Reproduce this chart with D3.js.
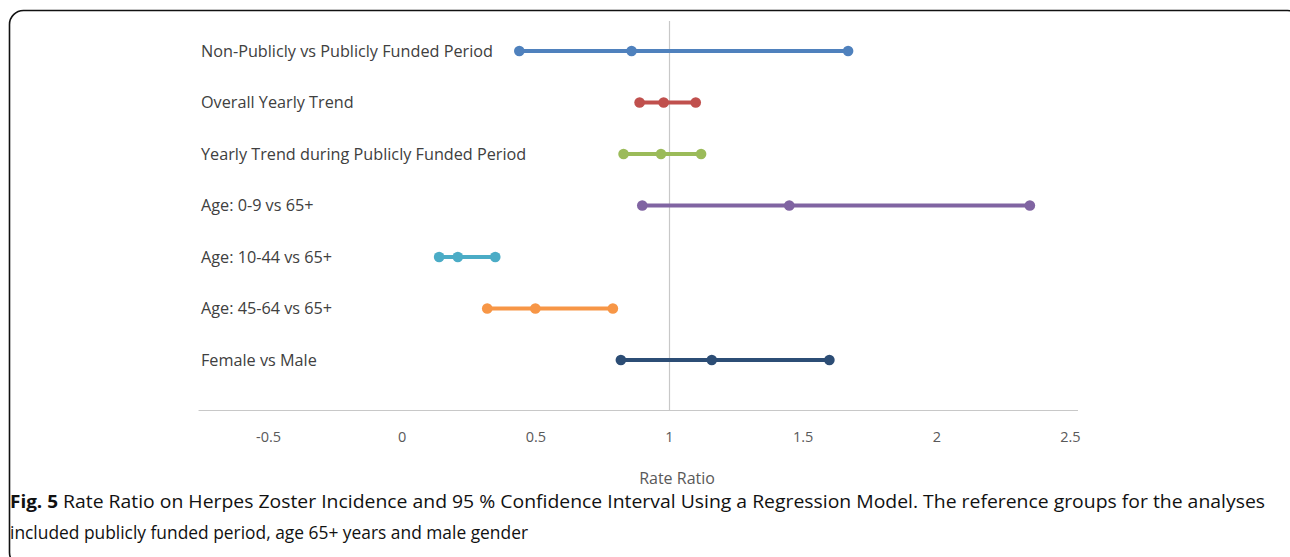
<!DOCTYPE html>
<html>
<head>
<meta charset="utf-8">
<script src="https://cdn.jsdelivr.net/npm/d3@7"></script>
<style>
  html, body { margin: 0; padding: 0; background: #fff; }
  svg { display: block; }
</style>
</head>
<body>
<svg id="chart" width="1290" height="557"></svg>
<script>
// Rate ratios with 95% confidence limits, one row per comparison
const categories = [
  "Non-Publicly vs Publicly Funded Period",
  "Overall Yearly Trend",
  "Yearly Trend during Publicly Funded Period",
  "Age: 0-9 vs 65+",
  "Age: 10-44 vs 65+",
  "Age: 45-64 vs 65+",
  "Female vs Male"
];
const lowerCI  = [0.44, 0.89, 0.83, 0.90, 0.14, 0.32, 0.82];
const estimate = [0.86, 0.98, 0.97, 1.45, 0.21, 0.50, 1.16];
const upperCI  = [1.67, 1.10, 1.12, 2.35, 0.35, 0.79, 1.60];
const seriesColors = ["#4F81BD", "#C0504D", "#9BBB59", "#8064A2", "#4BACC6", "#F79646", "#2C4D75"];
const xTicks = [-0.5, 0, 0.5, 1, 1.5, 2, 2.5];
const xAxisTitle = "Rate Ratio";
const captionBold = "Fig. 5";
const captionLine1 = "Rate Ratio on Herpes Zoster Incidence and 95 % Confidence Interval Using a Regression Model. The reference groups for the analyses";
const captionLine2 = "included publicly funded period, age 65+ years and male gender";

const rows = categories.map((c, i) => ({
  label: c, lo: lowerCI[i], est: estimate[i], hi: upperCI[i], color: seriesColors[i]
}));

const svg = d3.select("#chart");

// Rounded frame around the figure
svg.append("rect")
  .attr("x", 9.5).attr("y", 10.5)
  .attr("width", 1292).attr("height", 556)
  .attr("rx", 14).attr("ry", 14)
  .attr("fill", "none").attr("stroke", "#111").attr("stroke-width", 1.6);

const x = d3.scaleLinear().domain([0, 1]).range([401.7, 669]);
const y = d3.scalePoint().domain(categories).range([51, 360]);

const axisY = 410.5;

// Horizontal axis line (no tick marks)
svg.append("line")
  .attr("x1", x(-0.76)).attr("x2", x(2.53))
  .attr("y1", axisY).attr("y2", axisY)
  .attr("stroke", "#c8c8c8").attr("stroke-width", 1.2);

// Reference line at rate ratio 1
svg.append("line")
  .attr("x1", Math.round(x(1)) + 0.5).attr("x2", Math.round(x(1)) + 0.5)
  .attr("y1", 21).attr("y2", axisY)
  .attr("stroke", "#c8c8c8").attr("stroke-width", 1.2);

// Tick labels via d3 axis, domain path and tick lines hidden
const xAxis = d3.axisBottom(x).tickValues(xTicks).tickSize(0).tickPadding(0)
  .tickFormat(d => String(d));
const gx = svg.append("g").attr("transform", `translate(0, ${axisY + 27})`).call(xAxis);
gx.select(".domain").remove();
gx.selectAll("text")
  .attr("font-family", "'Open Sans', sans-serif")
  .attr("font-size", 14.5)
  .attr("fill", "#595959")
  .attr("dy", "0.32em")
  .attr("y", 0);

svg.append("text")
  .attr("x", x(1.03)).attr("y", 484)
  .attr("text-anchor", "middle")
  .attr("font-family", "'Open Sans', sans-serif")
  .attr("font-size", 16).attr("fill", "#595959")
  .text(xAxisTitle);

// Category labels
const labels = svg.append("g").selectAll("text")
  .data(rows).join("text")
  .attr("x", 201).attr("y", d => y(d.label))
  .attr("dy", "0.35em")
  .attr("font-family", "'Open Sans', sans-serif")
  .attr("font-size", 14)
  .attr("fill", "#404040")
  .text(d => d.label);
// size labels so the longest row label spans its usual width
const firstW = labels.nodes()[0].getComputedTextLength();
labels.attr("font-size", 14 * 292 / firstW);

// Interval lines and points
const g = svg.append("g").selectAll("g").data(rows).join("g");
g.append("line")
  .attr("x1", d => x(d.lo)).attr("x2", d => x(d.hi))
  .attr("y1", d => y(d.label)).attr("y2", d => y(d.label))
  .attr("stroke", d => d.color).attr("stroke-width", 4);
g.selectAll("circle")
  .data(d => [d.lo, d.est, d.hi].map(v => ({ v, d })))
  .join("circle")
  .attr("cx", p => x(p.v)).attr("cy", p => y(p.d.label))
  .attr("r", 5.3)
  .attr("fill", p => p.d.color);

// Figure caption (narrow setting)
const capFont = "'Open Sans', sans-serif";
svg.append("text")
  .attr("x", 10).attr("y", 508)
  .attr("font-family", capFont).attr("font-weight", "bold")
  .attr("font-size", 18).attr("fill", "#111")
  .attr("textLength", 48).attr("lengthAdjust", "spacingAndGlyphs")
  .text(captionBold);
svg.append("text")
  .attr("x", 63).attr("y", 508)
  .attr("font-family", capFont)
  .attr("font-size", 18).attr("fill", "#111")
  .attr("textLength", 1202).attr("lengthAdjust", "spacingAndGlyphs")
  .text(captionLine1);
svg.append("text")
  .attr("x", 10).attr("y", 539)
  .attr("font-family", capFont)
  .attr("font-size", 18).attr("fill", "#111")
  .attr("textLength", 518).attr("lengthAdjust", "spacingAndGlyphs")
  .text(captionLine2);
</script>
</body>
</html>
